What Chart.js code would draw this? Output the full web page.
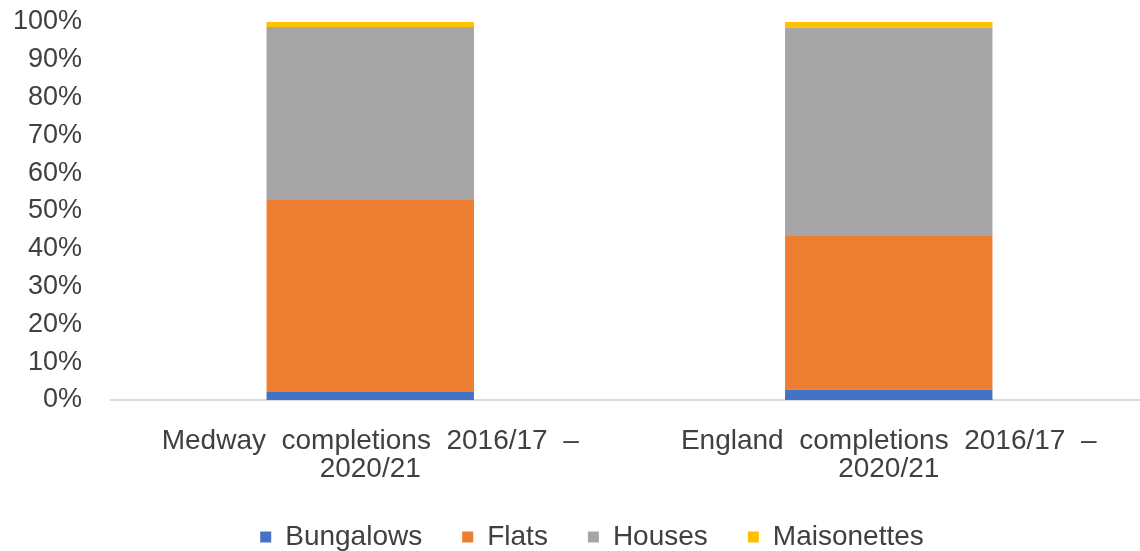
<!DOCTYPE html>
<html>
<head>
<meta charset="utf-8">
<script src="https://cdn.jsdelivr.net/npm/chart.js@4"></script>
<style>
  html, body { margin: 0; padding: 0; background: #fff; overflow: hidden; }
  .chart-box { position: absolute; left: 0; top: 0; width: 1148px; height: 551px; }
</style>
</head>
<body>
<div class="chart-box"><canvas id="myChart"></canvas></div>
<script>
const ctx = document.getElementById('myChart');

const categories = [
    ['Medway  completions  2016/17  \u2013', '2020/21'],
    ['England  completions  2016/17  \u2013', '2020/21']
]

// share of completions by dwelling type, in %
const bungalows = [2.1, 2.7]
const flats = [50.8, 40.7]
const houses = [45.8, 55.1]
const maisonettes = [1.3, 1.5]

const yTicks = [0, 10, 20, 30, 40, 50, 60, 70, 80, 90, 100]

const textFont = "'Liberation Sans', Arial, sans-serif"
const textColor = '#404040'

const data = {
    labels: categories,
    datasets: [
        { label: 'Bungalows', data: bungalows, backgroundColor: '#4472C4' },
        { label: 'Flats', data: flats, backgroundColor: '#ED7D31' },
        { label: 'Houses', data: houses, backgroundColor: '#A5A5A5' },
        { label: 'Maisonettes', data: maisonettes, backgroundColor: '#FFC000' }
    ]
};

// nudge the legend row a little to the right
const legendShift = {
    id: 'legendShift',
    afterLayout: (chart) => {
        const lg = chart.legend
        if (lg) {
            lg.left += 18
            lg.right += 18
        }
    }
}

let chart = new Chart(ctx, {
    type: 'bar',
    data: data,
    plugins: [legendShift],
    options: {
        maintainAspectRatio: false,
        responsive: true,
        animation: false,
        categoryPercentage: 1,
        barPercentage: 0.4,
        layout: {
            padding: { top: 0, right: 0, bottom: 0, left: 0 }
        },
        plugins: {
            tooltip: { enabled: false },
            legend: {
                display: true,
                position: 'bottom',
                maxHeight: 68,
                labels: {
                    boxWidth: 11,
                    boxHeight: 11,
                    padding: 40,
                    color: textColor,
                    font: { family: textFont, size: 28 }
                }
            }
        },
        scales: {
            x: {
                stacked: true,
                afterFit: (scale) => {
                    scale.height = 83
                },
                grid: { display: false, drawTicks: false },
                border: { display: true, color: '#d9d9d9', width: 2 },
                ticks: {
                    padding: 27,
                    maxRotation: 0,
                    autoSkip: false,
                    color: textColor,
                    font: { family: textFont, size: 28, lineHeight: 1.0 }
                }
            },
            y: {
                stacked: true,
                min: 0,
                max: 100,
                afterBuildTicks: (scale) => {
                    scale.ticks = yTicks.map(v => ({ value: v }))
                },
                afterFit: (scale) => {
                    scale.width = 111
                    scale.paddingTop = 22
                    scale.paddingBottom = 0
                },
                grid: { display: false, drawTicks: false },
                border: { display: false },
                ticks: {
                    padding: 29,
                    autoSkip: false,
                    color: textColor,
                    font: { family: textFont, size: 27 },
                    callback: (v) => v + '%'
                }
            }
        }
    }
});
</script>
</body>
</html>
